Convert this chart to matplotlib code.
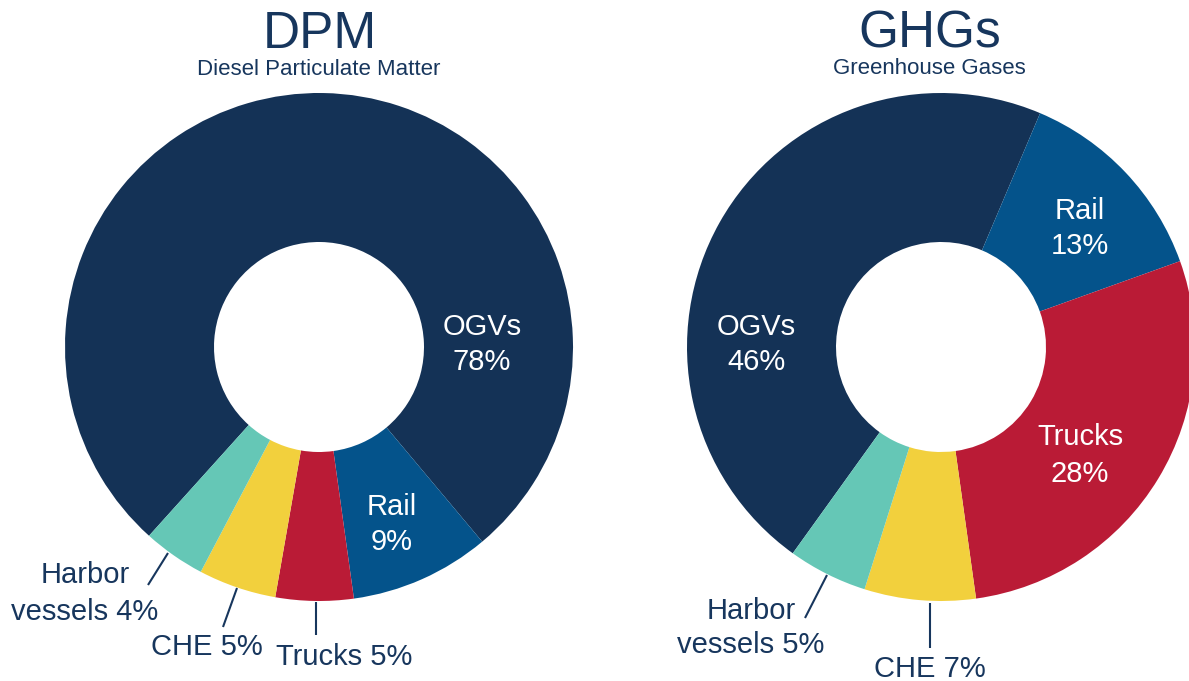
"""Port emissions share donuts: DPM vs GHGs by source category."""

import matplotlib
matplotlib.use("Agg")
import matplotlib.pyplot as plt

W, H = 1189, 681
NAVY_TXT = "#17365D"

# data -------------------------------------------------------------------
sources = ["OGVs", "Rail", "Trucks", "CHE", "Harbor vessels"]
dpm_share = [78, 9, 5, 5, 4]
ghg_share = [46, 13, 28, 7, 5]
colors = ["#143256", "#04538B", "#BA1B36", "#F2D03D", "#65C7B6"]

plt.rcParams["font.family"] = ["Liberation Sans", "DejaVu Sans"]


def P(x, y):
    """image pixel (y down) -> axes coords (y up)"""
    return x, H - y


def lines_at(ax, x, y, lines, size=21, color="white", step=35):
    for i, s in enumerate(lines):
        ax.text(*P(x, y + i * step), s, ha="center", va="baseline",
                fontsize=size, color=color)


def leader(ax, p0, p1):
    (x0, y0), (x1, y1) = P(*p0), P(*p1)
    ax.plot([x0, x1], [y0, y1], color=NAVY_TXT, lw=1.5,
            solid_capstyle="butt")


def donut(ax, values, cx, cy, start, R=254, r=105):
    ax.pie(values, colors=colors, startangle=start, counterclock=False,
           radius=R, center=P(cx, cy),
           wedgeprops=dict(width=R - r, linewidth=0))


def main():
    fig = plt.figure(figsize=(W / 100, H / 100), dpi=100)
    ax = fig.add_axes([0, 0, 1, 1])

    donut(ax, dpm_share, 319, 347, 228)
    donut(ax, ghg_share, 941, 347, 234.3)

    # titles
    ax.text(*P(320, 48), "DPM", ha="center", va="baseline",
            fontsize=37, color=NAVY_TXT)
    ax.text(*P(319, 75), "Diesel Particulate Matter", ha="center",
            va="baseline", fontsize=16, color=NAVY_TXT)
    ax.text(*P(930, 48), "GHGs", ha="center", va="baseline",
            fontsize=37, color=NAVY_TXT)
    ax.text(*P(929, 74), "Greenhouse Gases", ha="center",
            va="baseline", fontsize=16, color=NAVY_TXT)

    # DPM labels
    lines_at(ax, 482, 335, [sources[0], f"{dpm_share[0]}%"])
    lines_at(ax, 392, 515, [sources[1], f"{dpm_share[1]}%"])
    lines_at(ax, 85, 583, ["Harbor", f"vessels {dpm_share[4]}%"],
             color=NAVY_TXT, step=37)
    lines_at(ax, 207, 655, [f"{sources[3]} {dpm_share[3]}%"], color=NAVY_TXT)
    lines_at(ax, 344, 665, [f"{sources[2]} {dpm_share[2]}%"], color=NAVY_TXT)
    leader(ax, (168, 553), (148, 585))
    leader(ax, (237, 588), (223, 627))
    leader(ax, (316, 602), (316, 635))

    # GHG labels
    lines_at(ax, 756, 335, [sources[0], f"{ghg_share[0]}%"])
    lines_at(ax, 1080, 219, [sources[1], f"{ghg_share[1]}%"])
    lines_at(ax, 1080, 445, [sources[2], f"{ghg_share[2]}%"], step=37)
    lines_at(ax, 751, 619, ["Harbor", f"vessels {ghg_share[4]}%"],
             color=NAVY_TXT, step=34)
    lines_at(ax, 930, 677, [f"{sources[3]} {ghg_share[3]}%"], color=NAVY_TXT)
    leader(ax, (827, 575), (805, 618))
    leader(ax, (930, 603), (930, 648))

    ax.set_xlim(0, W)
    ax.set_ylim(0, H)
    ax.set_aspect("auto")
    ax.axis("off")
    fig.savefig("out.png", dpi=100)


if __name__ == "__main__":
    main()
